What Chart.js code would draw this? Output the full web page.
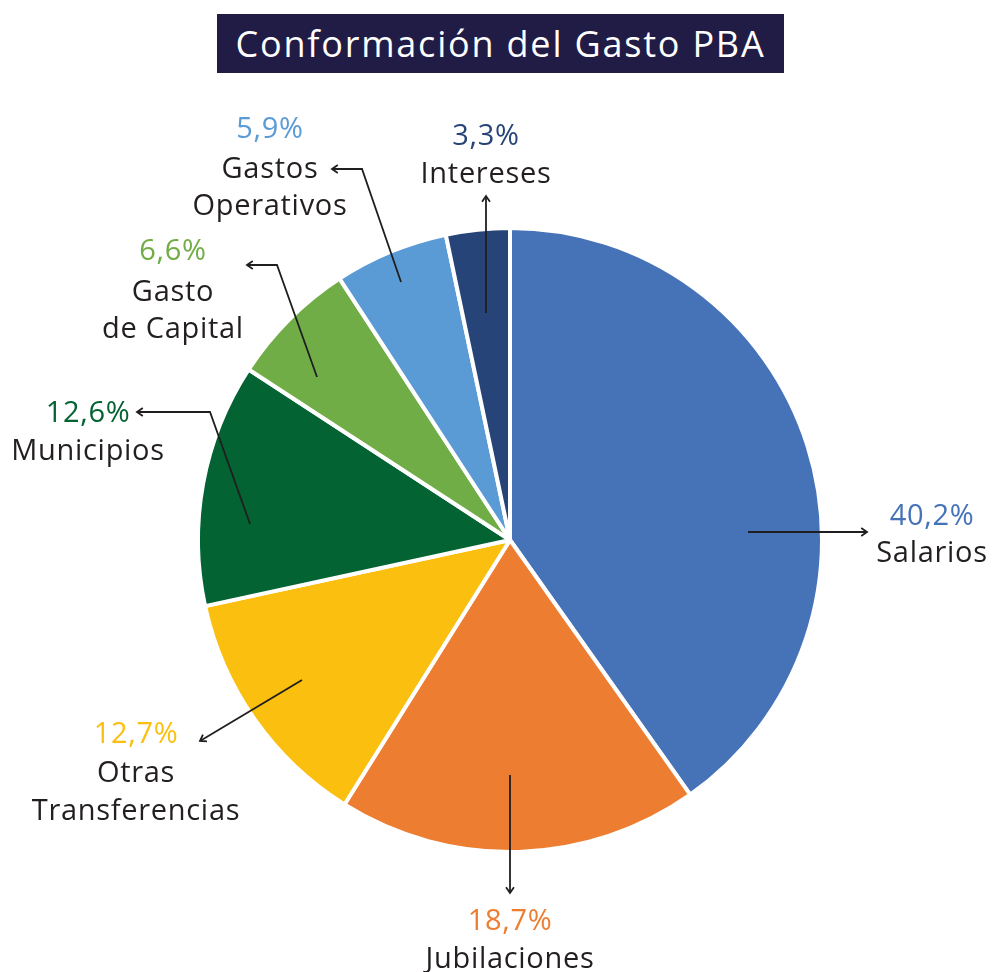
<!DOCTYPE html>
<html>
<head>
<meta charset="utf-8">
<script src="https://cdn.jsdelivr.net/npm/chart.js@4.4.1/dist/chart.umd.min.js"></script>
<style>
  html, body { margin: 0; padding: 0; background: #ffffff; }
  #wrap { position: relative; width: 995px; height: 972px; overflow: hidden; }
  #title {
    position: absolute; left: 217px; top: 14px; width: 567px; height: 59px;
    background: #211c45; color: #ffffff; font-family: 'Open Sans', sans-serif;
    font-size: 36px; letter-spacing: 1.8px; display: flex; align-items: center; justify-content: center;
  }
  canvas { position: absolute; left: 0; top: 0; }
</style>
</head>
<body>
<div id="wrap">
  <canvas id="c" width="995" height="972"></canvas>
  <div id="title">Conformación del Gasto PBA</div>
</div>
<script>
// ---- Data ----
const categories = ['Salarios', 'Jubilaciones', 'Otras Transferencias', 'Municipios', 'Gasto de Capital', 'Gastos Operativos', 'Intereses'];
const nameLines = [['Salarios'], ['Jubilaciones'], ['Otras', 'Transferencias'], ['Municipios'], ['Gasto', 'de Capital'], ['Gastos', 'Operativos'], ['Intereses']];
const values = [40.2, 18.7, 12.7, 12.6, 6.6, 5.9, 3.3];
const pctLabels = ['40,2%', '18,7%', '12,7%', '12,6%', '6,6%', '5,9%', '3,3%'];
const sliceColors = ['#4672b8', '#ed7d31', '#fbbf0f', '#036333', '#71ad47', '#5b9bd5', '#264478'];

// ---- Annotation layout (pixel offsets from pie centre) ----
const labelLayout = [
  { path: [[238, -8], [357, -8]], tx: 422, py: -25, ny: [12] },
  { path: [[0, 235], [0, 353]], tx: 0, py: 380, ny: [418] },
  { path: [[-208, 140], [-310, 201]], tx: -374, py: 193, ny: [232, 270] },
  { path: [[-260, -16], [-300, -128], [-373, -128]], tx: -422, py: -128, ny: [-90] },
  { path: [[-193, -163], [-233, -275], [-263, -275]], tx: -337, py: -290, ny: [-249, -212] },
  { path: [[-109, -258], [-148, -371], [-178, -371]], tx: -240, py: -412, ny: [-372, -335] },
  { path: [[-24, -227], [-24, -344]], tx: -24, py: -405, ny: [-367] }
];
const textShiftY = 2;
const labelFont = "29px 'Open Sans', sans-serif";

const leaderPlugin = {
  id: 'leaders',
  afterDraw(chart) {
    const ctx = chart.ctx;
    const meta = chart.getDatasetMeta(0);
    meta.data.forEach((arc, i) => {
      const cx = arc.x, cy = arc.y;
      const L = labelLayout[i];
      const pts = L.path.map(p => [cx + p[0], cy + p[1]]);
      ctx.save();
      ctx.strokeStyle = '#1f1f1f';
      ctx.lineWidth = 1.8;
      ctx.lineJoin = 'miter';
      ctx.beginPath();
      ctx.moveTo(pts[0][0], pts[0][1]);
      for (let k = 1; k < pts.length; k++) ctx.lineTo(pts[k][0], pts[k][1]);
      ctx.stroke();
      const a = pts[pts.length - 2], b = pts[pts.length - 1];
      const ang = Math.atan2(b[1] - a[1], b[0] - a[0]);
      const hl = 7, hw = 0.6;
      ctx.beginPath();
      ctx.moveTo(b[0] - hl * Math.cos(ang - hw), b[1] - hl * Math.sin(ang - hw));
      ctx.lineTo(b[0], b[1]);
      ctx.lineTo(b[0] - hl * Math.cos(ang + hw), b[1] - hl * Math.sin(ang + hw));
      ctx.stroke();
      ctx.font = labelFont;
      if ('letterSpacing' in ctx) ctx.letterSpacing = '0.7px';
      ctx.textAlign = 'center';
      ctx.textBaseline = 'middle';
      ctx.fillStyle = sliceColors[i];
      ctx.fillText(pctLabels[i], cx + L.tx, cy + L.py + textShiftY);
      ctx.fillStyle = '#231f20';
      nameLines[i].forEach((t, j) => ctx.fillText(t, cx + L.tx, cy + L.ny[j] + textShiftY));
      ctx.restore();
    });
  }
};

new Chart(document.getElementById('c'), {
  type: 'pie',
  data: {
    labels: categories,
    datasets: [{
      data: values,
      backgroundColor: sliceColors,
      borderColor: '#ffffff',
      borderWidth: 4
    }]
  },
  options: {
    responsive: false,
    devicePixelRatio: 1,
    animation: false,
    layout: { padding: { left: 196, right: 171, top: 226, bottom: 118 } },
    plugins: { legend: { display: false }, tooltip: { enabled: false }, title: { display: false } }
  },
  plugins: [leaderPlugin]
});
</script>
</body>
</html>
